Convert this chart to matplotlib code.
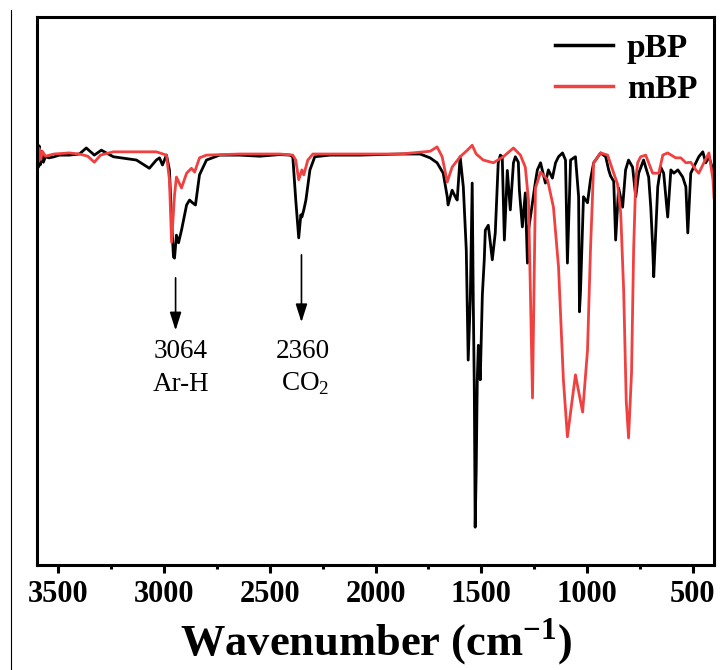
import matplotlib
matplotlib.use("Agg")
import matplotlib.pyplot as plt
import matplotlib.ticker as ticker
from matplotlib.lines import Line2D

plt.rcParams['font.family'] = ['Liberation Serif', 'DejaVu Serif']
plt.rcParams['mathtext.fontset'] = 'custom'
plt.rcParams['mathtext.rm'] = 'Liberation Serif'
plt.rcParams['mathtext.bf'] = 'Liberation Serif:bold'

# FTIR spectra: wavenumber (cm-1), transmittance (a.u.)
pbp_wn = [3600, 3595, 3590, 3585, 3578, 3570, 3560, 3543, 3519, 3495, 3448, 3400,
          3367, 3329, 3296, 3239, 3130, 3069, 3036, 3021, 3007, 2988, 2974, 2964,
          2955, 2950, 2941, 2931, 2917, 2893, 2879, 2865, 2851, 2832, 2799, 2737,
          2642, 2547, 2453, 2405, 2391, 2377, 2363, 2353, 2348, 2339, 2329, 2310,
          2287, 2216, 2074, 1884, 1789, 1742, 1709, 1680, 1661, 1657, 1638, 1623,
          1614, 1600, 1585, 1571, 1562, 1552, 1543, 1538, 1533, 1529, 1524, 1519,
          1514, 1505, 1495, 1486, 1481, 1467, 1448, 1434, 1420, 1410, 1401, 1391,
          1377, 1363, 1348, 1339, 1325, 1320, 1306, 1292, 1282, 1277, 1263, 1244,
          1235, 1220, 1197, 1183, 1164, 1149, 1135, 1116, 1102, 1093, 1078, 1055,
          1040, 1036, 1031, 1017, 998, 984, 969, 936, 912, 898, 889, 874, 865, 851,
          832, 818, 804, 785, 770, 756, 733, 709, 699, 690, 685, 666, 652, 638, 619,
          604, 590, 571, 548, 533, 524, 510, 486, 472, 453, 439, 424, 405, 400]
pbp_t = [74.5, 72.5, 76.5, 73.0, 75.5, 73.5, 74.5, 74.3, 74.5, 74.8, 74.8, 75.0,
         76.1, 74.8, 75.7, 74.5, 73.9, 72.4, 73.9, 74.3, 73.0, 74.8, 72.1, 63.0,
         56.2, 56.0, 60.2, 58.8, 61.1, 65.7, 66.6, 66.1, 65.7, 71.2, 73.9, 74.8,
         74.8, 74.6, 74.9, 74.8, 74.5, 66.6, 59.7, 63.9, 63.5, 64.8, 66.6, 72.1,
         74.5, 74.8, 74.8, 75.0, 75.0, 74.3, 73.4, 71.5, 67.2, 65.7, 68.4, 67.2,
         66.6, 74.5, 69.0, 57.5, 37.4, 48.4, 69.7, 48.4, 31.9, 6.9, 17.3, 33.8,
         40.1, 33.8, 49.3, 55.7, 61.1, 62.0, 55.7, 60.6, 73.4, 74.8, 74.5, 59.3,
         72.0, 64.8, 73.4, 74.5, 73.5, 68.4, 61.7, 67.9, 55.1, 61.1, 64.8, 70.0,
         72.1, 73.4, 69.7, 72.1, 70.6, 73.4, 74.5, 75.2, 73.9, 55.1, 73.9, 74.5,
         67.2, 46.2, 50.0, 67.2, 66.1, 70.3, 73.4, 75.2, 74.5, 72.1, 71.0, 70.0,
         59.3, 68.8, 65.3, 72.1, 73.9, 72.6, 67.2, 71.5, 73.9, 70.8, 65.3, 58.0,
         52.6, 69.0, 72.6, 71.5, 63.5, 72.1, 71.5, 72.1, 70.8, 69.0, 60.6, 71.5,
         73.4, 74.5, 75.4, 73.4, 74.5, 72.1, 71.0]

mbp_wn = [3600, 3595, 3590, 3582, 3575, 3560, 3519, 3448, 3400, 3360, 3329, 3300,
          3239, 3130, 3036, 2988, 2974, 2964, 2950, 2941, 2917, 2893, 2870, 2855,
          2832, 2799, 2642, 2453, 2391, 2377, 2363, 2348, 2339, 2320, 2296, 2074,
          1884, 1742, 1709, 1685, 1661, 1638, 1600, 1566, 1543, 1524, 1491, 1443,
          1396, 1348, 1315, 1292, 1277, 1268, 1258, 1251, 1244, 1220, 1187, 1159,
          1135, 1112, 1093, 1055, 1021, 998, 984, 975, 969, 936, 903, 874, 856,
          841, 827, 815, 804, 790, 780, 770, 761, 747, 723, 709, 690, 661, 642,
          619, 581, 557, 533, 510, 486, 472, 448, 424, 405, 400]
mbp_t = [75.5, 73.5, 76.0, 74.0, 75.5, 74.6, 75.0, 75.2, 75.0, 74.6, 73.5, 74.8,
         75.4, 75.4, 75.4, 74.8, 70.3, 58.9, 67.5, 70.8, 68.8, 71.5, 72.4, 71.7,
         74.3, 74.8, 75.0, 75.0, 74.8, 73.9, 70.3, 72.1, 71.2, 73.9, 75.0, 75.0,
         75.0, 75.5, 76.3, 74.5, 69.9, 72.6, 74.5, 75.7, 76.6, 75.0, 73.9, 73.4,
         74.5, 76.1, 74.8, 72.6, 66.6, 50.0, 30.5, 50.0, 68.8, 71.7, 70.3, 65.3,
         54.4, 33.8, 23.4, 34.7, 27.9, 39.2, 57.5, 66.6, 73.4, 75.2, 74.8, 71.5,
         69.5, 64.2, 50.0, 30.0, 23.2, 35.0, 57.5, 70.3, 73.4, 74.5, 74.8, 73.4,
         71.5, 71.5, 74.8, 75.2, 74.3, 74.3, 73.4, 73.5, 72.1, 71.5, 73.4, 75.2,
         70.3, 67.0]

red = "#F14040"

fig = plt.figure(figsize=(7.2, 6.7), dpi=100)
ax = fig.add_axes([0.0514, 0.1567, 0.9403, 0.8179])

ax.plot(pbp_wn, pbp_t, color='black', linewidth=2.0, label='pBP')
ax.plot(mbp_wn, mbp_t, color=red, linewidth=2.0, label='mBP')

ax.set_xlim(3600, 400)
ax.set_ylim(0, 100)
ax.set_yticks([])
ax.xaxis.set_major_locator(ticker.MultipleLocator(500))
ax.xaxis.set_minor_locator(ticker.MultipleLocator(250))
ax.tick_params(axis='x', which='major', length=6, width=2.2, direction='out', pad=5)
ax.tick_params(axis='x', which='minor', length=3, width=2.2, direction='out')
for lab in ax.get_xticklabels():
    lab.set_fontsize(22)
    lab.set_fontweight('bold')
for sp in ax.spines.values():
    sp.set_linewidth(2.2)

ax.set_xlabel(r'Wavenumber (cm$^{\mathbf{-1}}$)', fontsize=32, fontweight='bold')
ax.xaxis.set_label_coords(0.5, -0.166)
ax.xaxis.label.set_va('baseline')

# peak annotations
arrow = dict(arrowstyle='-|>,head_length=1.1,head_width=0.35', color='black', lw=1.2)
ax.annotate('', xy=(2945, 42.3), xytext=(2945, 52.9), arrowprops=arrow)
ax.annotate('', xy=(2350, 43.8), xytext=(2350, 57.1), arrowprops=arrow)
ax.text(2922, 38.9, '3064', fontsize=19.5, ha='center', va='center')
ax.text(2917, 33.0, 'Ar-H', fontsize=19.5, ha='center', va='center')
ax.text(2344, 38.9, '2360', fontsize=19.5, ha='center', va='center')
ax.text(2330, 33.0, r'CO$_\mathregular{2}$', fontsize=19.5, ha='center', va='center')

leg = ax.legend(loc='upper right', frameon=False, handlelength=1.75,
                prop={'weight': 'bold', 'size': 24}, borderaxespad=0.0,
                labelspacing=0.3, handletextpad=0.4, bbox_to_anchor=(0.995, 0.995))
for h in leg.get_lines():
    h.set_linewidth(2.5)

# thin page line at the far left
fig.add_artist(Line2D([11 / 720, 11 / 720], [0, 1 - 10 / 670], color='black', lw=0.8))

fig.savefig('out.png', dpi=100)
